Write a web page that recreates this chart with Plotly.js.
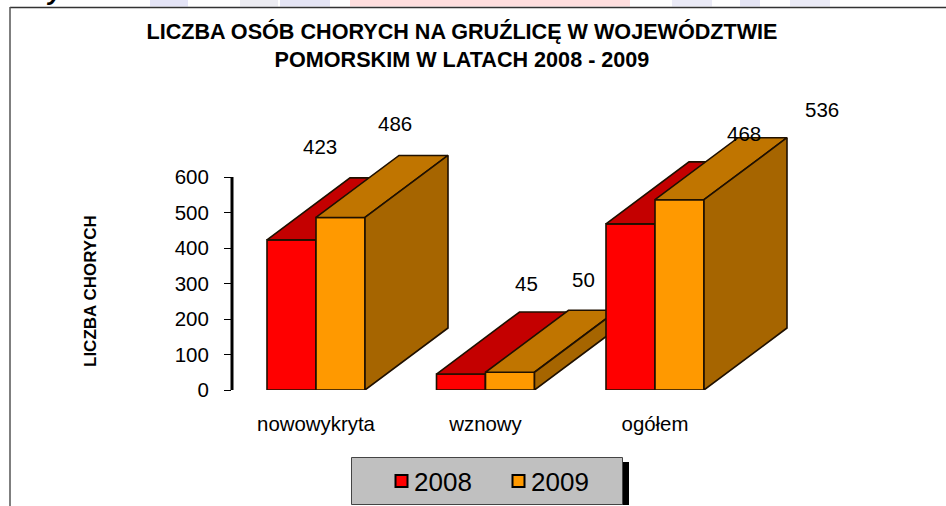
<!DOCTYPE html>
<html>
<head>
<meta charset="utf-8">
<script src="https://cdn.plot.ly/plotly-3.0.1.min.js"></script>
<style>html,body{margin:0;padding:0;background:#fff;overflow:hidden}</style>
</head>
<body>
<div id="chart" style="width:946px;height:506px"></div>
<script>
// ---- data ----
const categories = ['nowowykryta', 'wznowy', 'ogółem'];
const seriesNames = ['2008', '2009'];
const values2008 = [423, 45, 468];
const values2009 = [486, 50, 536];
const yTicks = [0, 100, 200, 300, 400, 500, 600];
const titleText = 'LICZBA OSÓB CHORYCH NA GRUŹLICĘ W WOJEWÓDZTWIE<br>POMORSKIM W LATACH 2008 - 2009';
const yTitleText = 'LICZBA CHORYCH';
const headingText = 'Wykres nr 1';

// ---- styling / geometry ----
const W = 946, H = 506;
const plotL = 232, plotR = 910, plotT = 100, plotB = 390;
const pxPerCat = 169.5, cat0Px = 316;
const pxPerVal = 213 / 600;
const barW = 49 / pxPerCat;
const depthX = 83 / pxPerCat, depthY = 62 / pxPerVal;
const fronts = ['#FF0000', '#FF9900'];
const tops = ['#C40000', '#C07500'];
const sides = ['#A00000', '#A66500'];
const edge = '#1f1000';
const font = 'Liberation Sans, Arial, sans-serif';
const series = [values2008, values2009];
// value label anchors in pixels: [[2008...],[2009...]]
const labelPx = [[[320,146],[526,283],[744,133]], [[395,123],[583,279],[822,110]]];

const px = v => (v - plotL) / (plotR - plotL);
const py = v => (plotB - v) / (plotB - plotT);

const traces = [], layoutAxes = {}, annotations = [];
let n = 0;
categories.forEach((cat, ci) => {
  series.forEach((vals, si) => {
    n++;
    const xa = n === 1 ? 'x' : 'x' + n, ya = n === 1 ? 'y' : 'y' + n;
    if (n > 1) {
      layoutAxes['xaxis' + n] = {overlaying: 'x', matches: 'x', visible: false};
      layoutAxes['yaxis' + n] = {overlaying: 'y', matches: 'y', visible: false};
    }
    const v = vals[ci];
    const x0 = ci + (si - 1) * barW, x1 = x0 + barW;
    traces.push({
      type: 'bar', x: [ci], y: [v], width: [barW], offset: [(si - 1) * barW],
      name: seriesNames[si], legendgroup: seriesNames[si], showlegend: ci === 0,
      marker: {color: fronts[si], line: {color: edge, width: 1.6}},
      xaxis: xa, yaxis: ya, cliponaxis: false, hoverinfo: 'x+y'
    });
    const face = (xs, ys, color) => traces.push({
      type: 'scatter', mode: 'lines', x: xs, y: ys, fill: 'toself', fillcolor: color,
      line: {color: edge, width: 1.6}, showlegend: false, hoverinfo: 'skip',
      xaxis: xa, yaxis: ya, cliponaxis: false
    });
    face([x0, x1, x1 + depthX, x0 + depthX, x0], [v, v, v + depthY, v + depthY, v], tops[si]);
    face([x1, x1 + depthX, x1 + depthX, x1, x1], [0, depthY, v + depthY, v, 0], sides[si]);
    annotations.push({
      xref: 'paper', yref: 'paper', x: px(labelPx[si][ci][0]), y: py(labelPx[si][ci][1]),
      xanchor: 'center', yanchor: 'middle',
      text: String(v), showarrow: false, font: {family: font, size: 20.5, color: '#000'}
    });
  });
});

annotations.push({
  xref: 'paper', yref: 'paper', x: px(90), y: py(291), xanchor: 'center', yanchor: 'middle', text: '<b>' + yTitleText + '</b>',
  textangle: -90, showarrow: false, font: {family: font, size: 17, color: '#000'}
});
annotations.push({
  xref: 'paper', yref: 'paper', x: px(22), y: py(8), xanchor: 'left', yanchor: 'bottom',
  text: '<b><i>' + headingText + '</i></b>', showarrow: false, font: {family: font, size: 26, color: '#000'}
});

const rectPx = (x0, y0, x1, y1, o) => Object.assign({type: 'rect', xref: 'paper', yref: 'paper',
  x0: px(x0), x1: px(x1), y0: py(y0), y1: py(y1)}, o);
const linePx = (x0, y0, x1, y1, color, width) => ({type: 'line', xref: 'paper', yref: 'paper',
  x0: px(x0), x1: px(x1), y0: py(y0), y1: py(y1), line: {color, width}, layer: 'below'});
const wash = (x0, x1, c) => rectPx(x0, 0, x1, 6.5, {fillcolor: c, line: {width: 0}, layer: 'below'});

const shapes = [
  wash(150, 188, '#E4E4F6'), wash(240, 278, '#ECECF2'), wash(280, 330, '#E4E4F4'), wash(350, 630, '#FFDEDE'),
  wash(672, 712, '#EAEAF6'), wash(740, 760, '#E4E4F4'), wash(790, 830, '#EAEAF6'),
  linePx(10, 7.5, W, 7.5, '#333', 1.5),
  linePx(10, 7, 10, H, '#555', 1.5),
  rectPx(356, 462, 629, 505, {fillcolor: '#000', line: {width: 0}, layer: 'below'}),
  rectPx(351.5, 457.5, 622.5, 504.5, {fillcolor: '#C0C0C0', line: {color: '#444', width: 1}, layer: 'below'}),
  {type: 'line', xref: 'paper', yref: 'y', x0: 0, x1: 0, y0: yTicks[0], y1: yTicks[yTicks.length - 1], line: {color: '#000', width: 3}}
];

const layout = Object.assign({
  width: W, height: H, paper_bgcolor: '#fff', plot_bgcolor: 'rgba(0,0,0,0)',
  margin: {l: plotL, r: W - plotR, t: plotT, b: H - plotB, pad: 0},
  barmode: 'overlay', font: {family: font, color: '#000'},
  title: {text: '<b>' + titleText + '</b>', x: 462 / W, xanchor: 'center', y: 1 - 38.5 / H, yanchor: 'top',
    font: {family: font, size: 21.6, color: '#000', lineposition: 'none'}},
  xaxis: {range: [(plotL - cat0Px) / pxPerCat, (plotR - cat0Px) / pxPerCat], tickvals: [0, 1, 2], ticktext: categories,
    ticklen: 0, showgrid: false, zeroline: false, showline: false, tickfont: {family: font, size: 20.4}, ticklabelstandoff: 20},
  yaxis: {range: [0, (plotB - plotT) / pxPerVal], tickvals: yTicks, ticks: 'outside', ticklen: 7, tickwidth: 1, tickcolor: '#000',
    showline: false, showgrid: false, zeroline: false, tickfont: {family: font, size: 20.5}, ticklabelstandoff: 11},
  legend: {orientation: 'h', xref: 'container', yref: 'container', x: 374 / W, xanchor: 'left', y: 1 - 481 / H, yanchor: 'middle',
    bgcolor: 'rgba(0,0,0,0)', font: {family: font, size: 26, color: '#000'}, entrywidth: 72, entrywidthmode: 'pixels', itemclick: false, itemdoubleclick: false},
  annotations, shapes
}, layoutAxes);

Plotly.newPlot('chart', traces, layout, {displayModeBar: false, responsive: false}).then(gd => {
  gd.querySelectorAll('.legendsymbols').forEach(s => s.setAttribute('transform', 'translate(7.5,0)'));
  gd.querySelectorAll('.legendsymbols path').forEach(p => { p.style.stroke = '#000'; p.style.strokeWidth = '2px'; });
});
</script>
</body>
</html>
